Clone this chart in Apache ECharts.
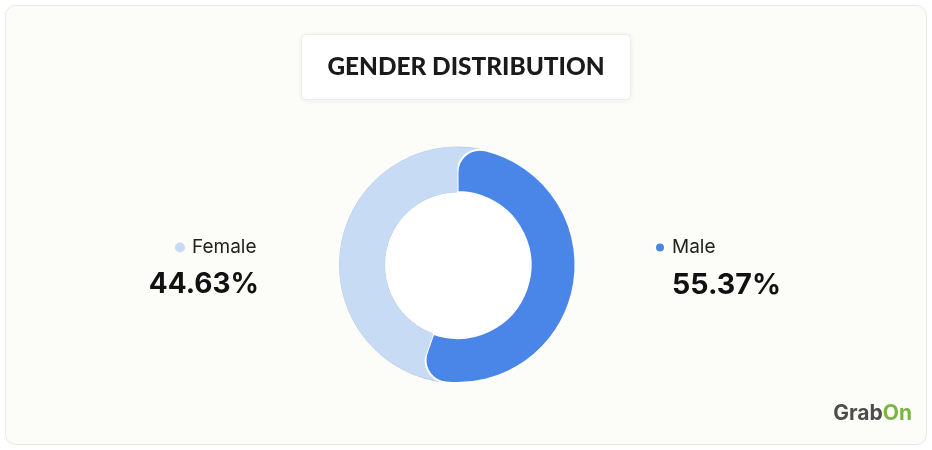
<!DOCTYPE html>
<html>
<head>
<meta charset="utf-8">
<script src="https://cdn.jsdelivr.net/npm/echarts@6/dist/echarts.min.js"></script>
<style>
html,body{margin:0;padding:0;background:#ffffff;}
#chart{width:932px;height:450px;}
</style>
</head>
<body>
<div id="chart"></div>
<script>
const chartTitle = 'GENDER DISTRIBUTION';
const categories = ['Male', 'Female'];
const values = [55.37, 44.63];
const brandParts = ['Grab', 'On'];

const colorMap = { Male: '#4a86e8', Female: '#c8dbf5' };
const trackColor = '#c8dbf5';

const chart = echarts.init(document.getElementById('chart'), null, { renderer: 'canvas' });

const center = [457.5, 265];
const ring = [73, 118];

function pct(name) {
  return values[categories.indexOf(name)].toFixed(2) + '%';
}

const option = {
  backgroundColor: '#ffffff',
  animation: false,
  graphic: [
    {
      type: 'rect', z: -10, silent: true,
      shape: { x: 5.5, y: 5.5, width: 921, height: 439, r: 10 },
      style: { fill: '#fcfdf9', stroke: '#e6e8e4', lineWidth: 1 }
    },
    {
      type: 'text', right: 20, top: 403, silent: true,
      style: {
        text: '{a|' + brandParts[0] + '}{b|' + brandParts[1] + '}',
        rich: {
          a: { fontFamily: 'Inter', fontWeight: 'bold', fontSize: 21, fill: '#4d4d4d' },
          b: { fontFamily: 'Inter', fontWeight: 'bold', fontSize: 21, fill: '#78b543' }
        }
      }
    }
  ],
  title: [
    {
      text: chartTitle,
      left: 'center', top: 34,
      padding: [20, 26],
      backgroundColor: '#ffffff',
      borderColor: '#ececec', borderWidth: 1, borderRadius: 4,
      shadowBlur: 6, shadowColor: 'rgba(0,0,0,0.06)', shadowOffsetY: 1,
      textStyle: { fontFamily: 'Lato', fontWeight: 900, fontSize: 24.4, lineHeight: 26, color: '#1a1a1a' }
    },
    {
      text: pct('Female'),
      right: 932 - 259, top: 269, padding: 0,
      textStyle: { fontFamily: 'Inter', fontWeight: 'bold', fontSize: 28, lineHeight: 32, color: '#111111' }
    },
    {
      text: pct('Male'),
      left: 672, top: 269, padding: 0,
      textStyle: { fontFamily: 'Inter', fontWeight: 'bold', fontSize: 28.6, lineHeight: 32, color: '#111111' }
    }
  ],
  legend: [
    {
      data: ['Female'], left: 175, top: 238, padding: 0, selectedMode: false,
      icon: 'circle', itemWidth: 14, itemHeight: 10,
      textStyle: { fontFamily: 'Inter', fontSize: 19, color: '#222222' }
    },
    {
      data: ['Male'], left: 654, top: 238, padding: 0, selectedMode: false,
      icon: 'circle', itemWidth: 14, itemHeight: 10,
      textStyle: { fontFamily: 'Inter', fontSize: 19, color: '#222222' }
    }
  ],
  series: [
    {
      type: 'pie', silent: true, z: 1,
      center: center, radius: [0, ring[0]],
      label: { show: false }, labelLine: { show: false },
      data: [{ value: 1, name: 'hole', itemStyle: { color: '#ffffff' } }]
    },
    {
      type: 'pie', silent: true, z: 2,
      center: center, radius: ring,
      label: { show: false }, labelLine: { show: false },
      data: [{ value: 1, name: 'track', itemStyle: { color: trackColor, borderColor: '#b9cde9', borderWidth: 1 } }]
    },
    {
      type: 'pie', z: 3, silent: true,
      center: center, radius: ring,
      startAngle: 90, clockwise: true,
      label: { show: false }, labelLine: { show: false },
      data: categories.map(function (c, i) {
        const item = { name: c, value: values[i], itemStyle: { color: colorMap[c] } };
        if (c === 'Male') {
          item.itemStyle.borderColor = '#ffffff';
          item.itemStyle.borderWidth = 2;
          item.itemStyle.borderRadius = [0, 45];
        }
        return item;
      })
    }
  ]
};
chart.setOption(option);
</script>
</body>
</html>
